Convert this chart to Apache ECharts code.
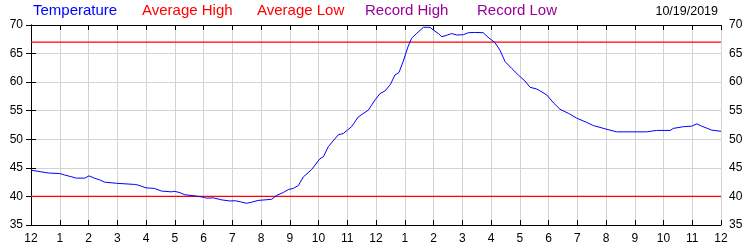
<!DOCTYPE html>
<html><head><meta charset="utf-8">
<script src="https://cdn.jsdelivr.net/npm/echarts@6/dist/echarts.min.js"></script>
<style>html,body{margin:0;padding:0;background:#fff}#c{width:750px;height:250px}</style>
</head><body><div id="c"></div>
<script>
const hourTickLabels = ['12','1','2','3','4','5','6','7','8','9','10','11','12','1','2','3','4','5','6','7','8','9','10','11','12'];
const tempHours = [0,0.6,1.0,1.17,1.4,1.58,1.87,2.02,2.2,2.39,2.56,2.97,3.6,3.72,4.0,4.3,4.53,4.88,5.0,5.18,5.35,5.41,5.69,5.88,6.04,6.11,6.34,6.63,6.92,7.1,7.33,7.5,7.68,7.9,8.14,8.37,8.55,8.78,8.95,9.12,9.3,9.47,9.76,10.05,10.17,10.34,10.69,10.86,11.15,11.38,11.73,11.97,12.14,12.31,12.5,12.66,12.8,12.95,13.12,13.24,13.42,13.65,13.88,14.0,14.17,14.29,14.46,14.63,14.81,15.04,15.21,15.44,15.73,15.9,16.14,16.31,16.49,16.72,16.95,17.18,17.36,17.59,17.7,17.94,18.17,18.4,18.69,18.98,19.33,19.56,20.03,20.37,21.41,21.76,22.23,22.34,22.69,22.98,23.16,23.33,23.68,24.0];
const tempValues = [44.6,44.1,44.0,43.75,43.45,43.2,43.2,43.6,43.2,42.9,42.5,42.3,42.1,42.0,41.5,41.4,40.95,40.8,40.9,40.65,40.3,40.2,40.1,39.95,39.8,39.7,39.75,39.4,39.2,39.25,39.0,38.8,39.0,39.3,39.4,39.5,40.2,40.7,41.2,41.4,41.9,43.4,44.7,46.6,46.95,48.7,50.8,51.0,52.2,53.9,55.1,56.9,58.0,58.45,59.6,61.25,61.7,63.7,66.3,67.7,68.55,69.6,69.6,69.1,68.5,67.95,68.2,68.5,68.25,68.3,68.65,68.7,68.65,67.85,66.9,65.6,63.6,62.4,61.25,60.2,59.1,58.8,58.5,57.75,56.4,55.25,54.55,53.7,52.95,52.4,51.75,51.3,51.3,51.55,51.55,51.9,52.2,52.3,52.7,52.3,51.6,51.4];
const averageHigh = 67;
const averageLow = 40;
const yTicks = [35,40,45,50,55,60,65,70];
const legendNames = ['Temperature','Average High','Average Low','Record High','Record Low'];
const dateLabel = '10/19/2019';

const chart = echarts.init(document.getElementById('c'), null, {renderer:'canvas'});
const FONT = '"Liberation Sans", Arial, sans-serif';
const legendColors = ['#0000ff','#ff0000','#ff0000','#990099','#990099'];
const legendX = [33,142,257,365,477];

const xCommon = {
  type:'value', min:0, max:24, interval:1,
  axisLine:{show:true, lineStyle:{color:'#000', width:1}},
  axisTick:{show:true, inside:true, length:5, lineStyle:{color:'#000'}},
  splitLine:{show:false}
};
const yCommon = {
  type:'value', min:35, max:70, interval:5,
  axisLine:{show:true, lineStyle:{color:'#000', width:1}},
  axisTick:{show:true, inside:true, length:5, lineStyle:{color:'#000'}},
  axisLabel:{color:'#000', fontFamily:FONT, fontSize:12, margin:8}
};

chart.setOption({
  animation:false,
  grid:{left:31, right:29, top:25, bottom:25, containLabel:false},
  xAxis:[
    Object.assign({}, xCommon, {position:'bottom',
      axisLabel:{color:'#000', fontFamily:FONT, fontSize:12, margin:8,
        formatter:(v)=>hourTickLabels[Math.round(v)]},
      splitLine:{show:true, lineStyle:{color:'#d3d3d3', width:1}}}),
    Object.assign({}, xCommon, {position:'top', axisLabel:{show:false}})
  ],
  yAxis:[
    Object.assign({}, yCommon, {position:'left',
      splitLine:{show:true, lineStyle:{color:'#d3d3d3', width:1}}}),
    Object.assign({}, yCommon, {position:'right', splitLine:{show:false}})
  ],
  graphic: legendNames.map((n,i)=>({
    type:'text', left:legendX[i], top:3,
    style:{text:n, fill:legendColors[i], font:'15px '+FONT}
  })).concat([{
    type:'text', right:32, top:5,
    style:{text:dateLabel, fill:'#000', font:'12.5px '+FONT}
  }]),
  series:[
    {type:'line', name:'Average High', xAxisIndex:0, yAxisIndex:0, symbol:'none',
      data:[[0,averageHigh],[24,averageHigh]], lineStyle:{color:'#ff0000', width:1.3}},
    {type:'line', name:'Average Low', xAxisIndex:0, yAxisIndex:0, symbol:'none',
      data:[[0,averageLow],[24,averageLow]], lineStyle:{color:'#ff0000', width:1.3}},
    {type:'line', name:'Temperature', xAxisIndex:0, yAxisIndex:0, symbol:'none',
      data:tempHours.map((h,i)=>[h,tempValues[i]]), lineStyle:{color:'#0000ff', width:1}}
  ]
});
</script></body></html>
